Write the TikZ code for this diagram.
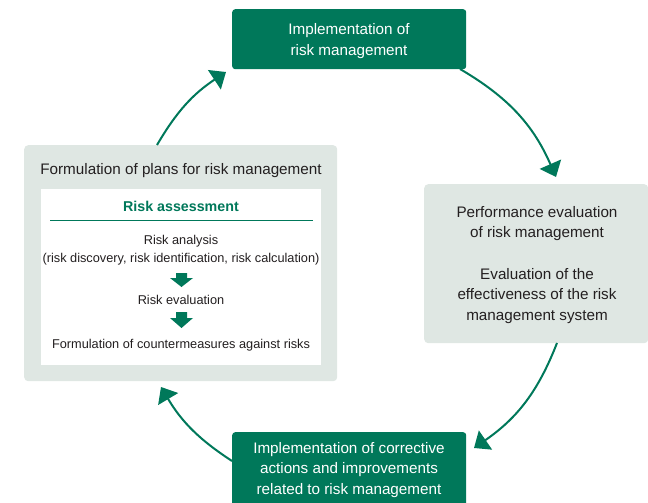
\documentclass[tikz,border=0pt]{standalone}
\usepackage{fontspec}
\setmainfont{Liberation Sans}
\usetikzlibrary{arrows.meta}
\definecolor{rgreen}{HTML}{00785A}
\definecolor{rgray}{HTML}{DFE7E3}
\definecolor{rtext}{HTML}{231F20}
\tikzset{
  greenbox/.style={fill=rgreen, draw=none, rounded corners=3bp, text=white, align=center, inner sep=0pt},
  graybox/.style={fill=rgray, draw=none, rounded corners=4bp, inner sep=0pt},
  whitebox/.style={fill=white, draw=none, inner sep=0pt},
  txt/.style={text=rtext, align=center, inner sep=0pt, font=\fontsize{15.3}{20.7}\selectfont},
  small/.style={txt, font=\fontsize{12.8}{18.5}\selectfont},
  cyc/.style={draw=rgreen, line width=2bp, -{Triangle[length=14bp,width=23bp]}},
  blockarrow/.style={fill=rgreen, draw=none}
}
\begin{document}
\begin{tikzpicture}[x=1bp, y=-1bp]
\useasboundingbox (0,0) rectangle (648,503);
\clip (0,0) rectangle (648,503);
% boxes
\node[greenbox, minimum width=234bp, minimum height=60bp, anchor=north west] (impl) at (232,9) {};
\node[txt, text=white] (impltxt) at (349,41) {Implementation of\\risk management};
\node[graybox, minimum width=224bp, minimum height=159bp, anchor=north west] (perf) at (424,184) {};
\node[txt] (perftxt) at (537,265) {Performance evaluation\\of risk management\\[20.7bp]Evaluation of the\\effectiveness of the risk\\management system};
\node[greenbox, minimum width=234bp, minimum height=80bp, anchor=north west] (corr) at (232,432) {};
\node[txt, text=white] (corrtxt) at (349,470) {Implementation of corrective\\actions and improvements\\related to risk management};
\node[graybox, minimum width=313bp, minimum height=236bp, anchor=north west] (plan) at (24,145) {};
\node[txt] (plantitle) at (181,171) {Formulation of plans for risk management};
\node[whitebox, minimum width=280bp, minimum height=176bp, anchor=north west] (assess) at (41,189) {};
\node[txt, text=rgreen, font=\fontsize{14.3}{20}\selectfont\bfseries] (asstitle) at (181,206) {Risk assessment};
\draw[rgreen, line width=1bp] ([xshift=9bp,yshift=-31bp]assess.north west) -- ([xshift=-8bp,yshift=-31bp]assess.north east);
\node[small] (analysis) at (181,250) {Risk analysis\\(risk discovery, risk identification, risk calculation)};
\node[small] (evaluation) at (181,300) {Risk evaluation};
\node[small] (counter) at (181,345) {Formulation of countermeasures against risks};
% small block arrows
\fill[blockarrow] (176,273) -- (187,273) -- (187,278) -- (193,278) -- (181.5,287) -- (170,278) -- (176,278) -- cycle;
\fill[blockarrow] (176,312) -- (187,312) -- (187,318) -- (193,318) -- (181.5,328) -- (170,318) -- (176,318) -- cycle;
% cycle arrows
\coordinate (a1s) at (157,145);
\coordinate (a1e) at (226,72);
\coordinate (a2s) at (460,69);
\coordinate (a2e) at (556,177);
\coordinate (a3s) at (557,343);
\coordinate (a3e) at (474,448);
\coordinate (a4s) at (232,461);
\coordinate (a4e) at (161,387);
\draw[cyc] (a1s) to[bend left=13] (a1e);
\draw[cyc] (a2s) to[bend left=18] (a2e);
\draw[cyc] (a3s) to[bend left=17] (a3e);
\draw[cyc] (a4s) to[bend left=13] (a4e);
\end{tikzpicture}
\end{document}
